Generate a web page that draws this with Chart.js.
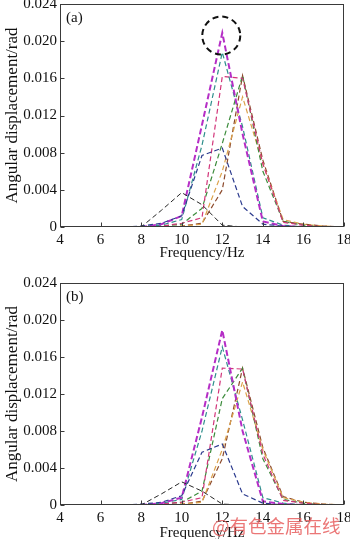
<!DOCTYPE html>
<html><head><meta charset="utf-8">
<script src="https://cdn.jsdelivr.net/npm/chart.js@4.4.1/dist/chart.umd.min.js"></script>
<style>
html,body{margin:0;padding:0;background:#fff;width:350px;height:539px;overflow:hidden;}
#c1{position:absolute;left:0;top:0;}
#c2{position:absolute;left:0;top:270px;}
#wm{position:absolute;left:212px;top:513px;font-family:"Noto Sans CJK SC";font-size:18.5px;color:rgba(232,95,95,0.85);white-space:nowrap;line-height:24px;}
</style></head>
<body>
<canvas id="c1" width="350" height="270"></canvas>
<canvas id="c2" width="350" height="278"></canvas>
<div id="wm">@有色金属在线</div>
<script>
const freq = [4,5,6,7,8,9,10,11,12,13,14,15,16,17,18];
const yTicks = [0,0.004,0.008,0.012,0.016,0.020,0.024];
const xTicks = [4,6,8,10,12,14,16,18];

// (a)
const black_a   = [0,0,0,0,0,0.0018,0.0037,0.0024,0.0002,0,0,0,0,0,0];
const navy_a    = [0,0,0,0,0.0001,0.0004,0.0012,0.0077,0.0085,0.0022,0.0003,0.0001,0,0,0];
const magenta_a = [0,0,0,0,0,0.0003,0.0012,0.0110,0.0209,0.0100,0.0006,0.0001,0,0,0];
const teal_a    = [0,0,0,0,0,0.0002,0.0008,0.0088,0.0188,0.0108,0.0010,0.0002,0,0,0];
const pink_a    = [0,0,0,0,0,0.0001,0.0004,0.0010,0.0162,0.0160,0.0068,0.0005,0.0002,0,0];
const green_a   = [0,0,0,0,0,0.0001,0.0003,0.0020,0.0090,0.0163,0.0060,0.0006,0.0002,0,0];
const orange_a  = [0,0,0,0,0,0,0.0001,0.0003,0.0060,0.0140,0.0068,0.0008,0.0003,0.0001,0];
const brown_a   = [0,0,0,0,0,0,0.0001,0.0004,0.0040,0.0163,0.0072,0.0006,0.0003,0.0001,0];

// (b)
const black_b   = [0,0,0,0,0,0.0012,0.0025,0.0015,0.0001,0,0,0,0,0,0];
const navy_b    = [0,0,0,0,0.0001,0.0003,0.0010,0.0057,0.0066,0.0012,0.0002,0,0,0,0];
const magenta_b = [0,0,0,0,0,0.0002,0.0008,0.0095,0.0189,0.0080,0.0004,0.0001,0,0,0];
const teal_b    = [0,0,0,0,0,0.0002,0.0006,0.0080,0.0171,0.0092,0.0008,0.0002,0,0,0];
const pink_b    = [0,0,0,0,0,0.0001,0.0003,0.0008,0.0148,0.0147,0.0055,0.0005,0.0002,0,0];
const green_b   = [0,0,0,0,0,0.0001,0.0003,0.0015,0.0115,0.0148,0.0050,0.0006,0.0002,0,0];
const orange_b  = [0,0,0,0,0,0,0.0001,0.0003,0.0060,0.0133,0.0060,0.0008,0.0003,0.0001,0];
const brown_b   = [0,0,0,0,0,0,0.0001,0.0004,0.0050,0.0148,0.0062,0.0009,0.0003,0.0001,0];

const styles = [
  {c:'#262626', w:1, d:[5,3]},
  {c:'#2c3b8e', w:1.2, d:[5,3]},
  {c:'#b52ec6', w:2, d:[6,3]},
  {c:'#2f8f8c', w:1.2, d:[5,3]},
  {c:'#d2357a', w:1.2, d:[5,3]},
  {c:'#3c8c3c', w:1.2, d:[5,3]},
  {c:'#dca24a', w:1.2, d:[5,3]},
  {c:'#8c4a2c', w:1.2, d:[5,3]}
];

const framePlugin = {
  id:'frame',
  afterDraw(chart, args, opts){
    const {ctx, chartArea:a, scales:{x,y}} = chart;
    ctx.save();
    ctx.setLineDash([]);
    ctx.strokeStyle='#3a3a3a'; ctx.lineWidth=1;
    const L=Math.round(a.left)+0.5, R=Math.round(a.right)-0.5, T=Math.round(a.top)+0.5, B=Math.round(a.bottom)-0.5;
    ctx.strokeRect(L,T,R-L,B-T);
    ctx.beginPath();
    xTicks.forEach(v=>{const p=Math.round(x.getPixelForValue(v))+0.5; ctx.moveTo(p,B); ctx.lineTo(p,B-4);});
    yTicks.forEach(v=>{const p=Math.round(y.getPixelForValue(v))+0.5; ctx.moveTo(L,p); ctx.lineTo(L+4,p);});
    ctx.stroke();
    ctx.fillStyle='#111';
    ctx.font='15px "Liberation Serif"';
    ctx.textBaseline='middle'; ctx.textAlign='left';
    ctx.fillText(opts.label, a.left+6, a.top+14);
    if(opts.circle){
      ctx.beginPath();
      ctx.setLineDash([6,4]);
      ctx.lineWidth=2; ctx.strokeStyle='#111';
      ctx.arc(x.getPixelForValue(opts.circle.x), y.getPixelForValue(opts.circle.y), opts.circle.r, 0, Math.PI*2);
      ctx.stroke();
    }
    ctx.restore();
  }
};

function makeChart(id, series, label, circle, padTop, titlePadBottom){
  const datasets = series.map((s,i)=>({
    data: freq.map((f,j)=>({x:f, y:s[j]})),
    borderColor: styles[i].c, borderWidth: styles[i].w, borderDash: styles[i].d,
    pointRadius:0, tension:0, fill:false
  }));
  const font = {family:'"Liberation Serif"', size:15};
  const yfont = {family:'"Liberation Serif"', size:17};
  return new Chart(document.getElementById(id), {
    type:'line',
    data:{datasets},
    plugins:[framePlugin],
    options:{
      responsive:false, animation:false, devicePixelRatio:1,
      layout:{padding:{left:0,right:6,top:padTop,bottom:0}},
      plugins:{legend:{display:false}, tooltip:{enabled:false}, frame:{label, circle}},
      scales:{
        x:{type:'linear', min:4, max:18,
           grid:{display:false, drawTicks:false}, border:{display:false},
           ticks:{stepSize:2, color:'#111', font, padding:4, maxRotation:0, autoSkip:false},
           title:{display:true, text:'Frequency/Hz', color:'#111', font, padding:{top:0,bottom:titlePadBottom}},
           afterFit(s){s.height=43; s.paddingLeft=0; s.paddingRight=0;}
        },
        y:{type:'linear', min:0, max:0.024,
           grid:{display:false, drawTicks:false}, border:{display:false},
           ticks:{stepSize:0.004, color:'#111', font, padding:3,
                  callback:v=> (Math.abs(v)<1e-9 ? '0' : v.toFixed(3))},
           title:{display:true, text:'Angular displacement/rad', color:'#111', font:yfont, padding:{top:2,bottom:0}},
           afterFit(s){s.width=60; s.paddingTop=0; s.paddingBottom=0;}
        }
      }
    }
  });
}

makeChart('c1', [black_a,navy_a,magenta_a,teal_a,pink_a,green_a,orange_a,brown_a], '(a)', {x:11.95, y:0.0206, r:19}, 4, 8);
makeChart('c2', [black_b,navy_b,magenta_b,teal_b,pink_b,green_b,orange_b,brown_b], '(b)', null, 13, 6);
</script>
</body></html>
